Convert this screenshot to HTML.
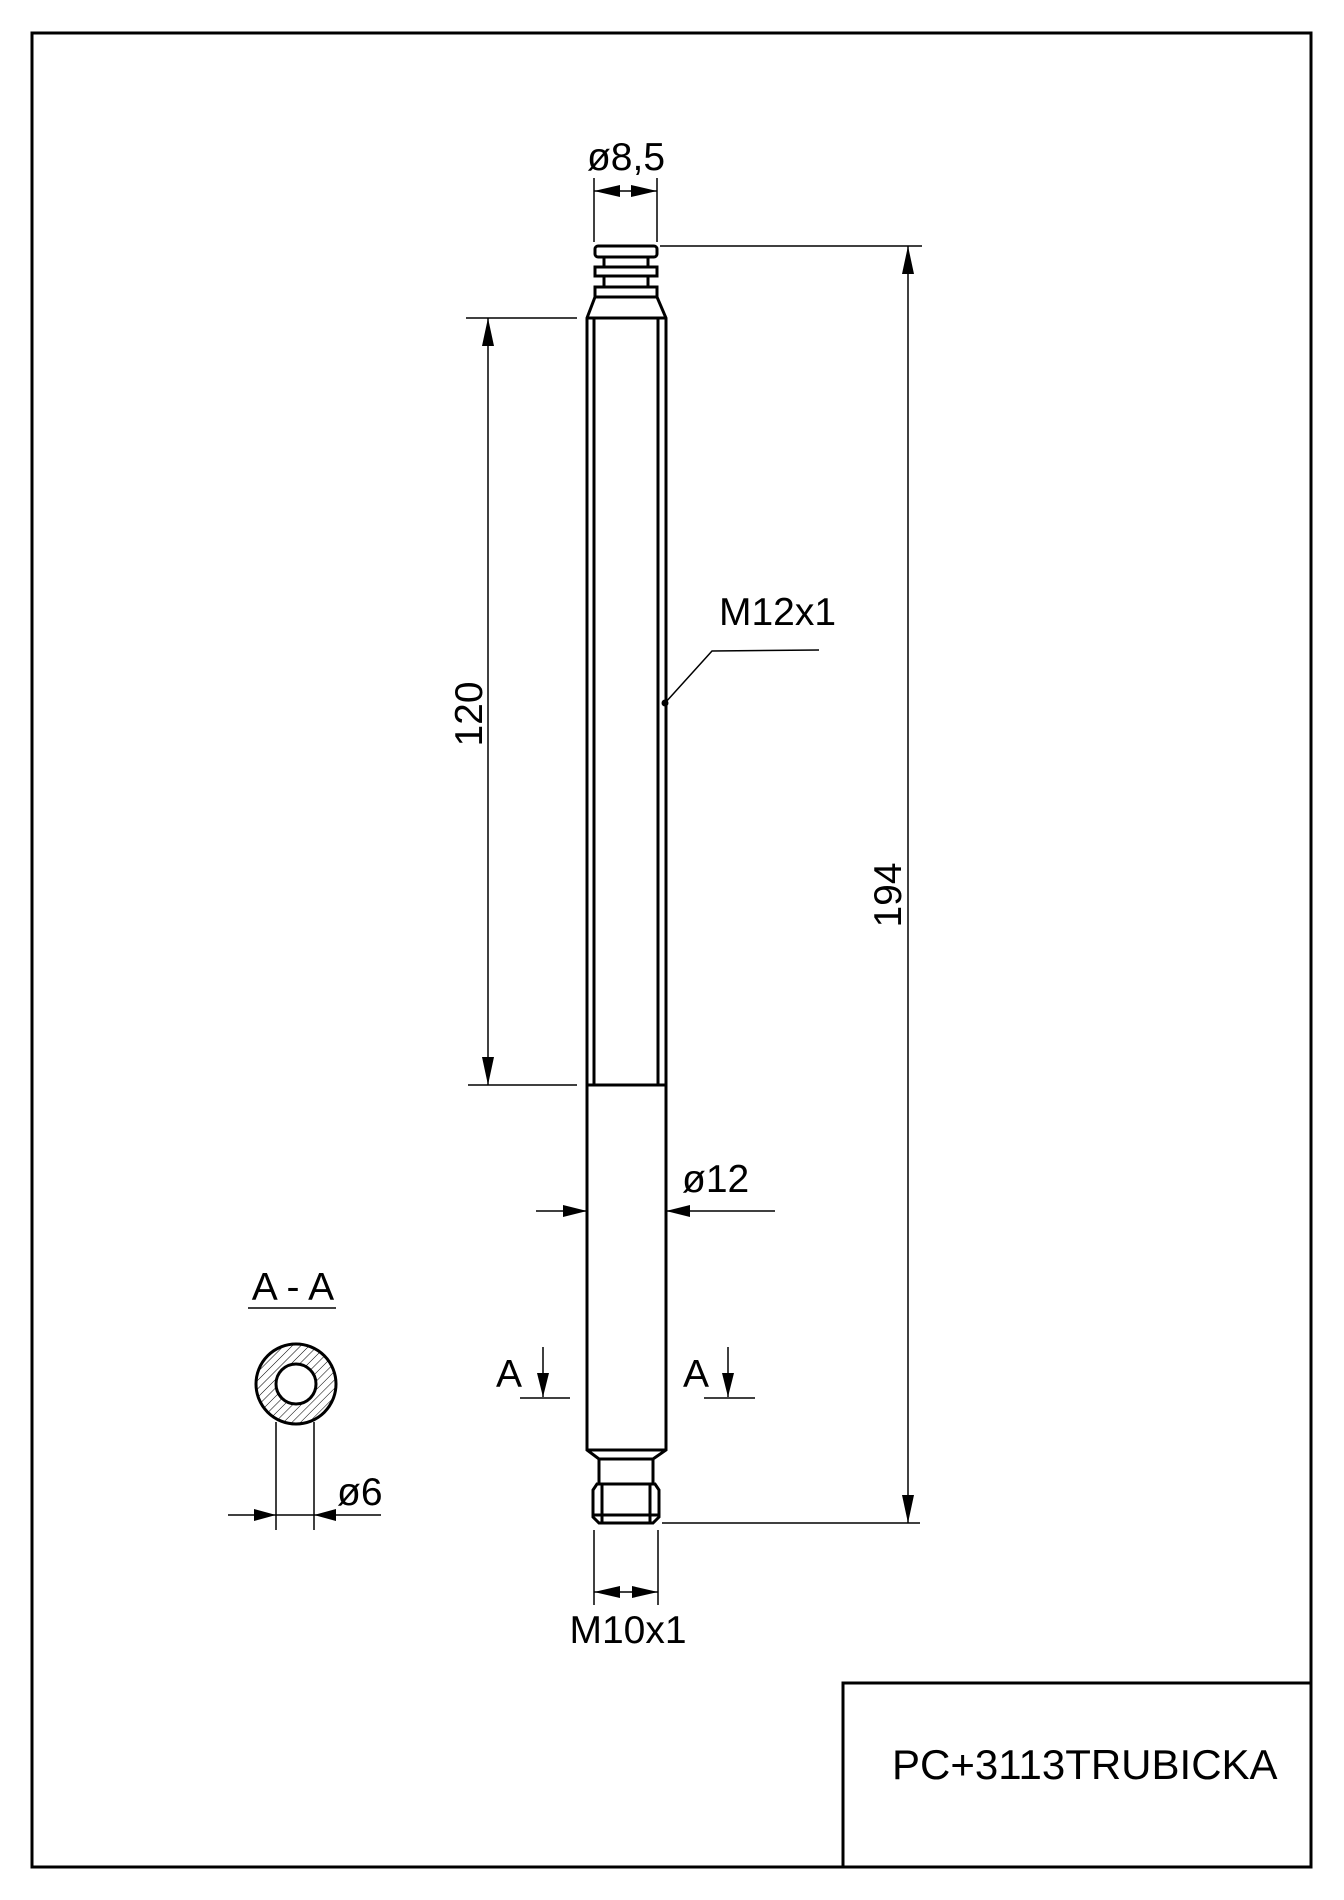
<!DOCTYPE html>
<html><head><meta charset="utf-8"><style>html,body{margin:0;padding:0;background:#fff}svg{display:block}</style></head>
<body>
<svg width="1344" height="1900" viewBox="0 0 1344 1900" xmlns="http://www.w3.org/2000/svg" font-family="Liberation Sans, sans-serif" fill="none" stroke="#000">
<defs>
<pattern id="h" width="6" height="6" patternUnits="userSpaceOnUse" patternTransform="rotate(45)"><line x1="0" y1="0" x2="0" y2="6" stroke="#000" stroke-width="1"/></pattern>
</defs>
<rect x="32" y="33" width="1279" height="1834" stroke-width="3"/>
<rect x="843" y="1683" width="468" height="184" stroke-width="3"/>
<text x="892" y="1779" font-size="42" fill="#000" stroke="none">PC+3113TRUBICKA</text>

<g stroke-width="3">
<rect x="595" y="246" width="62" height="11" rx="3"/>
<rect x="604" y="257" width="44" height="10"/>
<rect x="595" y="267" width="62" height="9"/>
<rect x="604" y="276" width="44" height="11"/>
<rect x="595" y="287" width="62" height="10"/>
<path d="M595 297 L587 318 L587 1450 L599 1459 L653 1459 L666 1450 L666 318 L657 297"/>
<line x1="587" y1="318" x2="666" y2="318"/>
<line x1="594" y1="318" x2="594" y2="1085"/>
<line x1="658" y1="318" x2="658" y2="1085"/>
<line x1="587" y1="1085" x2="666" y2="1085"/>
<line x1="587" y1="1450" x2="666" y2="1450"/>
<rect x="599" y="1459" width="54" height="25"/>
<path d="M597 1484 L655 1484 L659 1490 L659 1517 L653 1523 L599 1523 L593 1517 L593 1490 Z"/>
<line x1="602" y1="1484" x2="602" y2="1523"/>
<line x1="650" y1="1484" x2="650" y2="1523"/>
<line x1="593" y1="1515" x2="659" y2="1515"/>
</g>

<g stroke-width="1.5">
<line x1="594" y1="178" x2="594" y2="242"/>
<line x1="657" y1="178" x2="657" y2="242"/>
<line x1="594" y1="191" x2="657" y2="191"/>
<line x1="660" y1="246" x2="922" y2="246"/>
<line x1="662" y1="1523" x2="920" y2="1523"/>
<line x1="908" y1="246" x2="908" y2="1523"/>
<line x1="466" y1="318" x2="577" y2="318"/>
<line x1="468" y1="1085" x2="577" y2="1085"/>
<line x1="488" y1="318" x2="488" y2="1085"/>
<line x1="536" y1="1211" x2="587" y2="1211"/>
<line x1="666" y1="1211" x2="775" y2="1211"/>
<polyline points="665,703 712,651 819,650"/>
<line x1="594" y1="1530" x2="594" y2="1605"/>
<line x1="658" y1="1530" x2="658" y2="1605"/>
<line x1="594" y1="1592" x2="658" y2="1592"/>
<line x1="543" y1="1347" x2="543" y2="1397"/>
<line x1="520" y1="1398" x2="570" y2="1398"/>
<line x1="728" y1="1347" x2="728" y2="1397"/>
<line x1="704" y1="1398" x2="755" y2="1398"/>
<line x1="248" y1="1308" x2="336" y2="1308"/>
<line x1="276" y1="1422" x2="276" y2="1530"/>
<line x1="314" y1="1422" x2="314" y2="1530"/>
<line x1="228" y1="1515" x2="381" y2="1515"/>
</g>

<g fill="#000" stroke="none">
<polygon points="594,191 620,185 620,197"/>
<polygon points="657,191 631,185 631,197"/>
<polygon points="908,246 902,274 914,274"/>
<polygon points="908,1523 902,1495 914,1495"/>
<polygon points="488,318 482,346 494,346"/>
<polygon points="488,1085 482,1057 494,1057"/>
<polygon points="587,1211 563,1205 563,1217"/>
<polygon points="666,1211 690,1205 690,1217"/>
<polygon points="594,1592 620,1586 620,1598"/>
<polygon points="658,1592 632,1586 632,1598"/>
<polygon points="543,1397 537,1373 549,1373"/>
<polygon points="728,1397 722,1373 734,1373"/>
<polygon points="276,1515 254,1509 254,1521"/>
<polygon points="314,1515 336,1509 336,1521"/>
<circle cx="665" cy="703" r="3.5"/>
</g>

<circle cx="296" cy="1384" r="40" fill="url(#h)" stroke-width="3"/>
<circle cx="296" cy="1384" r="20" fill="#fff" stroke-width="3"/>

<g fill="#000" stroke="none" font-size="39">
<text x="626" y="170" text-anchor="middle">ø8,5</text>
<text x="719" y="625">M12x1</text>
<text x="682" y="1192">ø12</text>
<text x="628" y="1643" text-anchor="middle">M10x1</text>
<text x="496" y="1387">A</text>
<text x="683" y="1387">A</text>
<text x="293" y="1300" text-anchor="middle">A - A</text>
<text x="337" y="1505">ø6</text>
<text transform="translate(482,714) rotate(-90)" text-anchor="middle">120</text>
<text transform="translate(901,895) rotate(-90)" text-anchor="middle">194</text>
</g>
</svg>
</body></html>
